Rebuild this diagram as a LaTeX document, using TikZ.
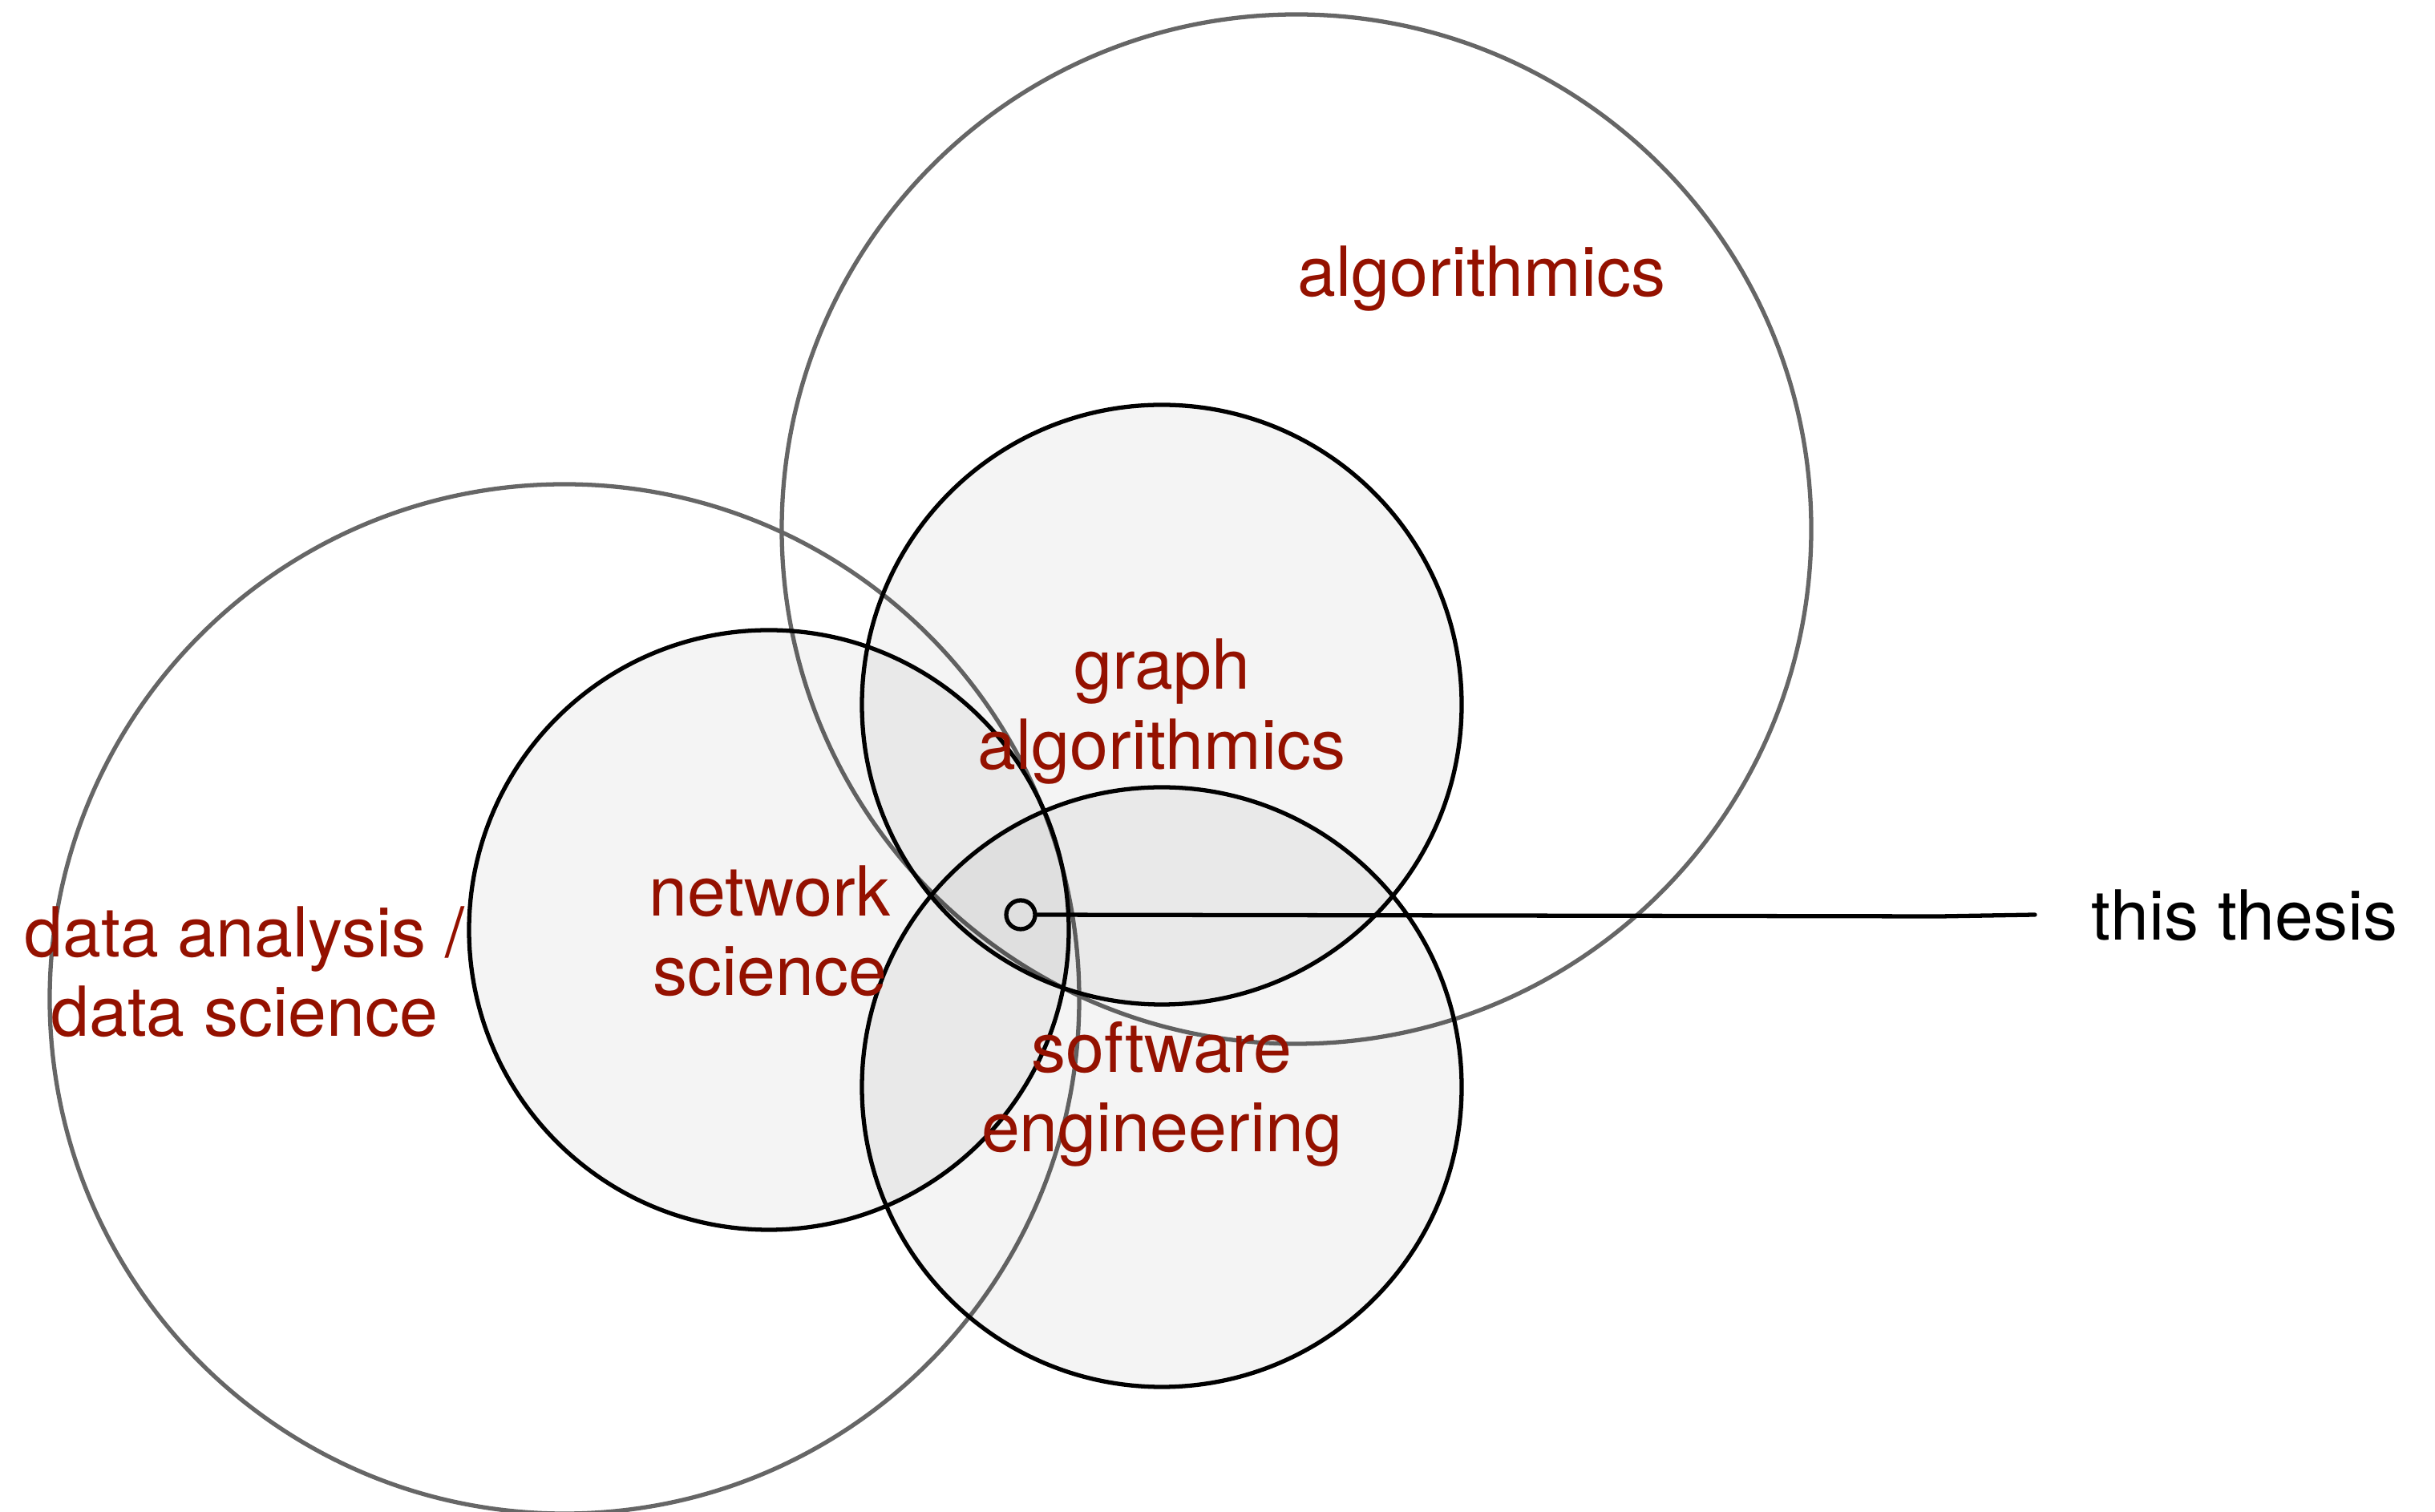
\documentclass[tikz,border=0pt]{standalone}
\usepackage{fontspec}
\setmainfont{TeX Gyre Heros}
\usetikzlibrary{positioning}
\definecolor{fieldred}{RGB}{148,17,0}
\definecolor{rimgray}{RGB}{102,102,102}

\begin{document}
\begin{tikzpicture}[
		line width=1.5pt,
		field/.style = {circle,draw=rimgray,minimum size=12.84cm,inner sep=0pt},
		subfield/.style = {circle,draw=black,fill=black,fill opacity=0.045,minimum size=7.48cm,inner sep=0pt},
		lbl/.style = {text=fieldred,align=center,font=\fontsize{24.5}{28.45}\selectfont,inner sep=0pt,anchor=base},
		dot/.style = {circle,draw=black,minimum size=0.36cm,inner sep=0pt}
		]

	\useasboundingbox (0,0) rectangle (30.37,18.85);

	% the two wide fields
	\node[field] (algo) at (16.17,12.25) {};
	\node[field] (data) at (7.04,6.39) {};

	% the three sub fields
	\node[subfield] (graph) at (14.49,10.06) {};
	\node[subfield] (net) at (9.59,7.25) {};
	\node[subfield] (soft) at (14.49,5.29) {};

	% labels (base = last line)
	\node[lbl] (algolbl) at (18.48,15.15) {algorithmics};
	\node[lbl] (datalbl) at (3.05,5.92) {data analysis /\\data science};
	\node[lbl] (graphlbl) at (14.49,9.25) {graph\\algorithmics};
	\node[lbl] (netlbl) at (9.60,6.43) {network\\science};
	\node[lbl] (softlbl) at (14.49,4.48) {software\\engineering};

	% pointer to the thesis
	\node[dot] (me) at (12.73,7.44) {};
	\coordinate (kink) at (24.20,7.42);
	\coordinate (tip) at (25.38,7.44);
	\draw[line cap=round] (me) -- (kink) -- (tip);
	\node[lbl,text=black,anchor=base west] (thesis) at (26.06,7.12) {this thesis};
\end{tikzpicture}
\end{document}
